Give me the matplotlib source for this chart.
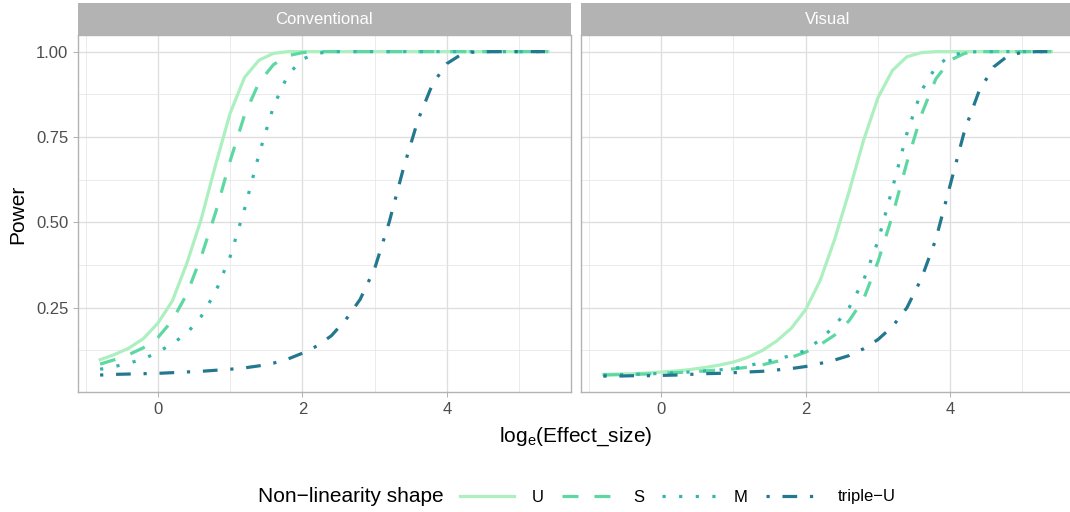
import matplotlib
matplotlib.use('Agg')
import matplotlib.pyplot as plt
from matplotlib.patches import Rectangle
from matplotlib.ticker import FormatStrFormatter

plt.rcParams['font.family'] = ['Liberation Sans', 'DejaVu Sans']
plt.rcParams['mathtext.fontset'] = 'custom'
plt.rcParams['mathtext.rm'] = 'Liberation Sans'

# ===== data =====
x_log = [-0.8, -0.6, -0.4, -0.2, 0.0, 0.2, 0.4, 0.6, 0.8, 1.0, 1.2, 1.4, 1.6, 1.8,
         2.0, 2.2, 2.4, 2.6, 2.8, 3.0, 3.2, 3.4, 3.6, 3.8, 4.0, 4.2, 4.4, 4.6,
         4.8, 5.0, 5.2, 5.4]

shapes = ['U', 'S', 'M', 'triple\u2212U']
panels = ['Conventional', 'Visual']

conv_U = [0.098, 0.113, 0.132, 0.16, 0.205, 0.27, 0.38, 0.51, 0.67, 0.82, 0.925,
          0.975, 0.995, 1.0] + [1.0] * 18
conv_S = [0.085, 0.098, 0.113, 0.133, 0.163, 0.213, 0.29, 0.40, 0.53, 0.68, 0.815,
          0.91, 0.962, 0.988, 0.997, 1.0] + [1.0] * 16
conv_M = [0.07, 0.078, 0.088, 0.10, 0.12, 0.145, 0.175, 0.225, 0.297, 0.40, 0.54,
          0.70, 0.84, 0.932, 0.978, 0.995, 1.0] + [1.0] * 15
conv_T = [0.053, 0.055, 0.056, 0.057, 0.058, 0.06, 0.062, 0.064, 0.067, 0.07, 0.074,
          0.08, 0.088, 0.10, 0.117, 0.138, 0.168, 0.215, 0.275, 0.365, 0.50, 0.66,
          0.80, 0.905, 0.965, 0.992, 1.0] + [1.0] * 5

vis_U = [0.055, 0.056, 0.057, 0.059, 0.062, 0.065, 0.069, 0.075, 0.082, 0.091, 0.105,
         0.125, 0.153, 0.19, 0.245, 0.33, 0.45, 0.59, 0.74, 0.865, 0.945, 0.985, 0.997,
         1.0] + [1.0] * 8
vis_S = [0.053, 0.054, 0.055, 0.056, 0.058, 0.06, 0.062, 0.065, 0.068, 0.071, 0.076,
         0.083, 0.093, 0.105, 0.12, 0.142, 0.17, 0.212, 0.275, 0.385, 0.52, 0.675,
         0.815, 0.92, 0.975, 0.995, 1.0] + [1.0] * 5
vis_M = [0.053, 0.054, 0.055, 0.056, 0.058, 0.06, 0.062, 0.065, 0.068, 0.072, 0.08,
         0.09, 0.10, 0.11, 0.125, 0.157, 0.197, 0.25, 0.33, 0.445, 0.60, 0.76, 0.885,
         0.955, 0.988, 0.998, 1.0] + [1.0] * 5
vis_T = [0.05, 0.05, 0.051, 0.051, 0.052, 0.053, 0.055, 0.057, 0.058, 0.06, 0.062,
         0.064, 0.068, 0.072, 0.078, 0.087, 0.097, 0.11, 0.13, 0.157, 0.195, 0.25,
         0.335, 0.45, 0.61, 0.77, 0.885, 0.955, 0.988, 0.998, 1.0, 1.0]

panel_data = {
    'Conventional': [conv_U, conv_S, conv_M, conv_T],
    'Visual': [vis_U, vis_S, vis_M, vis_T],
}

colors = ['#ADF0C0', '#5DD8A3', '#36B5AD', '#23788F']
styles = ['-', (0, (5, 5)), (0, (1, 4.2)), (0, (1, 4, 4.6, 4))]

# ===== figure, panels placed in pixels =====
W, H = 1070, 512
fig = plt.figure(figsize=(W / 100, H / 100), dpi=100)


def px_axes(left, top, right, bottom):
    return fig.add_axes([left / W, 1 - bottom / H, (right - left) / W, (bottom - top) / H])


ax_l = px_axes(77.7, 35.4, 570.5, 392.3)
ax_r = px_axes(581, 35.4, 1073.8, 392.3)

strip_h = 32.4 / (392.3 - 35.4)

for ax, panel in zip([ax_l, ax_r], panels):
    for name, y, c, ls in zip(shapes, panel_data[panel], colors, styles):
        ax.plot(x_log, y, color=c, lw=2.3, linestyle=ls, label=name,
                solid_joinstyle='round')

    ax.set_xlim(-1.11, 5.71)
    ax.set_ylim(0.0025, 1.0475)
    ax.set_xticks([0, 2, 4])
    ax.set_xticks([-1, 1, 3, 5], minor=True)
    ax.set_yticks([0.25, 0.5, 0.75, 1.0])
    ax.set_yticks([0.125, 0.375, 0.625, 0.875], minor=True)
    ax.yaxis.set_major_formatter(FormatStrFormatter('%.2f'))
    ax.grid(which='major', color='#DEDEDE', lw=0.95)
    ax.grid(which='minor', color='#E6E6E6', lw=0.55)
    ax.set_axisbelow(True)
    for sp in ax.spines.values():
        sp.set_color('#B3B3B3')
        sp.set_linewidth(1.0)
    ax.tick_params(which='major', direction='out', length=3.8, width=0.75,
                   color='#B3B3B3', labelcolor='#4D4D4D', labelsize=12, pad=3)
    ax.tick_params(which='minor', length=0)

    # facet strip
    ax.add_patch(Rectangle((0, 1), 1, strip_h, transform=ax.transAxes,
                           facecolor='#B3B3B3', edgecolor='none', clip_on=False))
    ax.text(0.5, 1 + strip_h / 2, panel, transform=ax.transAxes, ha='center',
            va='center', color='white', fontsize=12)

ax_r.tick_params(which='both', left=False, labelleft=False)

# ===== axis titles =====
fig.text(576 / W, 1 - 437 / H, r'log$_\mathregular{e}$(Effect_size)', ha='center',
         va='center', fontsize=15)
fig.text(18 / W, 1 - 214 / H, 'Power', rotation=90, ha='center', va='center',
         fontsize=15)

# ===== legend at the bottom =====
fig.text(258 / W, 1 - 497 / H, 'Non\u2212linearity shape', ha='left', va='center',
         fontsize=15)
fig.legend(ax_l.get_lines(), shapes, loc='center left',
           bbox_to_anchor=(460 / W, 1 - 497 / H), ncol=4, frameon=False,
           fontsize=12, handlelength=3.25, handletextpad=1.05, columnspacing=1.08,
           borderpad=0, borderaxespad=0)

fig.savefig('out.png', dpi=100)
